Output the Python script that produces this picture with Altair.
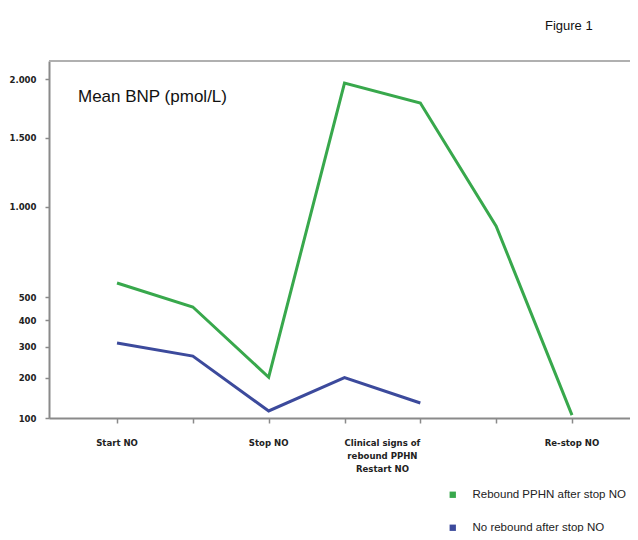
import altair as alt
import pandas as pd

# ---- data ----
stage_idx = [0, 1, 2, 3, 4, 5, 6]
rebound_bnp = [568, 457, 201, 1964, 1787, 880, 106]
no_rebound_idx = [0, 1, 2, 3, 4]
no_rebound_bnp = [313, 267, 115, 200, 133]
series_names = ["Rebound PPHN after stop NO", "No rebound after stop NO"]
series_colors = ["#38a84c", "#3c4a9c"]

x_label_pos = [0, 2, 3.5, 6]
x_label_text = ["Start NO", "Stop NO", "Clinical signs of\nrebound PPHN\nRestart NO", "Re-stop NO"]
y_tick_values = [100, 200, 300, 400, 500, 1000, 1500, 2000]

title_text = "Mean BNP (pmol/L)"
fig_text = "Figure 1"

W, H = 581, 357
NARROW = "Liberation Sans Narrow, DejaVu Sans Condensed, Arial Narrow, sans-serif"

rows = []
for i, v in zip(stage_idx, rebound_bnp):
    rows.append({"idx": i, "bnp": v, "series": series_names[0]})
for i, v in zip(no_rebound_idx, no_rebound_bnp):
    rows.append({"idx": i, "bnp": v, "series": series_names[1]})
df = pd.DataFrame(rows)

xscale = alt.Scale(domain=[-0.897, 6.765], nice=False, zero=False)
yscale = alt.Scale(type="sqrt", domain=[100, 2170], nice=False, zero=False)

xaxis = alt.Axis(values=stage_idx, labels=False, title=None, grid=False,
                 domainColor="#8a8a8a", domainWidth=2, tickColor="#8a8a8a",
                 tickSize=5, tickWidth=1.5)
yaxis = alt.Axis(values=y_tick_values, title=None, grid=False,
                 labelExpr="replace(format(datum.value, ','), ',', '.')",
                 labelFont=NARROW, labelFontWeight="bold", labelFontSize=9.5,
                 labelColor="#222", labelPadding=9,
                 domainColor="#8a8a8a", domainWidth=2, tickColor="#8a8a8a",
                 tickSize=4, tickWidth=1.5)
legend = alt.Legend(orient="none", legendX=398, legendY=428, title=None,
                    symbolType="square", symbolSize=40,
                    symbolStrokeWidth=0, labelFontSize=11.5, labelLimit=300,
                    labelFont="Liberation Sans, Arial, sans-serif",
                    labelColor="#222", rowPadding=20, labelOffset=14)
cscale = alt.Scale(domain=series_names, range=series_colors)

# invisible squares (invalid y) just to give the legend filled square symbols
leg_df = pd.DataFrame({"idx": [0, 0], "bnp": [None, None], "series": series_names})
leg_squares = alt.Chart(leg_df).mark_square(opacity=1).encode(
    x=alt.X("idx:Q", scale=xscale, axis=xaxis),
    y=alt.Y("bnp:Q", scale=yscale, axis=yaxis),
    color=alt.Color("series:N", scale=cscale, legend=legend),
)

lines = alt.Chart(df).mark_line(strokeWidth=3).encode(
    x=alt.X("idx:Q", scale=xscale, axis=xaxis),
    y=alt.Y("bnp:Q", scale=yscale, axis=yaxis),
    color=alt.Color("series:N", scale=cscale, legend=legend),
    detail="series:N",
)

lab_df = pd.DataFrame({"pos": x_label_pos, "txt": x_label_text})
xlabels = alt.Chart(lab_df).mark_text(
    baseline="top", align="center", font=NARROW, fontWeight="bold", fontSize=9.5,
    lineHeight=13, lineBreak="\n", color="#222"
).encode(x=alt.X("pos:Q", scale=xscale), y=alt.value(377), text="txt:N")

title_mark = alt.Chart(pd.DataFrame({"t": [title_text]})).mark_text(
    align="left", baseline="middle", fontSize=17, font="Liberation Sans, Arial, sans-serif",
    color="#111"
).encode(x=alt.value(29), y=alt.value(36), text="t:N")

fig_mark = alt.Chart(pd.DataFrame({"t": [fig_text]})).mark_text(
    align="left", baseline="middle", fontSize=13, font="Liberation Sans, Arial, sans-serif",
    color="#111"
).encode(x=alt.value(496), y=alt.value(-35), text="t:N")

top_rule = alt.Chart(pd.DataFrame({"a": [0]})).mark_rule(color="#b0b0b0", strokeWidth=2).encode(
    x=alt.value(0), x2=alt.value(W + 10), y=alt.value(0)
)

chart = alt.layer(leg_squares, top_rule, lines, xlabels, title_mark, fig_mark).properties(
    width=W, height=H,
    autosize=alt.AutoSizeParams(type="none"),
    padding={"left": 41, "top": 53, "right": 0, "bottom": 114},
).configure_view(stroke=None).configure(background="white")

chart.save("out.html", embed_options={"renderer": "svg", "actions": False})
